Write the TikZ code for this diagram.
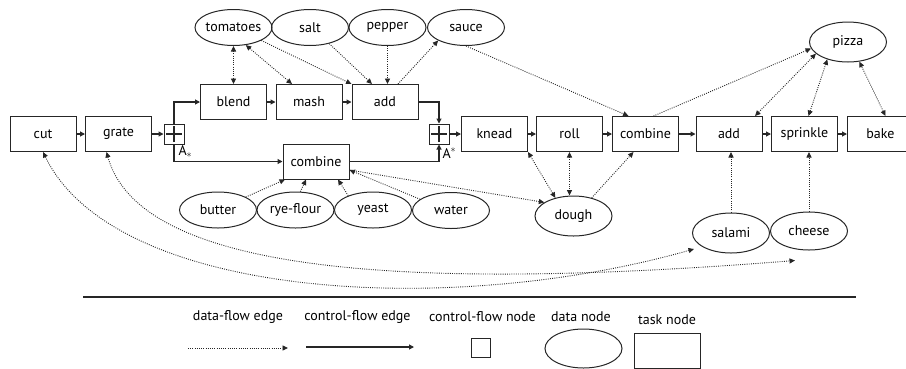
\documentclass[tikz,border=0pt]{standalone}
\usepackage{fontspec}
\setmainfont{PT Sans}
\usetikzlibrary{arrows.meta,shapes.geometric}
\begin{document}
\begin{tikzpicture}[x=1pt,y=-1pt,
    every node/.style={font=\fontsize{14}{16}\selectfont,inner sep=0pt},
    task/.style={draw=black!85,line width=1pt,minimum width=66pt,minimum height=35pt},
    data/.style={draw=black!85,line width=1pt,ellipse,minimum width=77pt,minimum height=36pt},
    ctrl/.style={draw=black!85,line width=1pt,minimum size=20pt},
    plus/.style={ctrl,path picture={\draw[line width=1.2pt]
        ([xshift=-8pt]path picture bounding box.center) -- ([xshift=8pt]path picture bounding box.center)
        ([yshift=-8pt]path picture bounding box.center) -- ([yshift=8pt]path picture bounding box.center);}},
    cflow/.style={draw=black!85,line width=1.1pt,-{Triangle[length=5pt,width=5pt]}},
    dflow/.style={draw=black!85,line width=0.9pt,dash pattern=on 0.9pt off 1.3pt,-{Triangle[length=5.5pt,width=5pt]}},
    dboth/.style={dflow,{Triangle[length=5.5pt,width=5pt]}-{Triangle[length=5.5pt,width=5pt]}}]
    \useasboundingbox (0,0) rectangle (906,368);
    \node[task] (cut) at (43,134) {cut};
    \node[task] (grate) at (118.5,134) {grate};
    \node[plus] (split) at (174,134) {};
    \node[task] (blend) at (233.5,102) {blend};
    \node[task] (mash) at (309,102) {mash};
    \node[task] (addA) at (385,102) {add};
    \node[task] (combineA) at (316,161.5) {combine};
    \node[plus] (join) at (439,134) {};
    \node[task] (knead) at (494.5,134) {knead};
    \node[task] (roll) at (569.5,134) {roll};
    \node[task] (combineB) at (645.5,134) {combine};
    \node[task] (addB) at (729,134) {add};
    \node[task] (sprinkle) at (804.5,134) {sprinkle};
    \node[task] (bake) at (880.5,134) {bake};
    \node[data] (tomatoes) at (233.5,27.5) {\makebox[0pt]{tomatoes}};
    \node[data] (salt) at (310,27.5) {\makebox[0pt]{salt}};
    \node[data] (pepper) at (387.5,27.5) {\makebox[0pt]{pepper}};
    \node[data] (sauce) at (466,27.5) {\makebox[0pt]{sauce}};
    \node[data,minimum height=40pt] (pizza) at (848,42) {\makebox[0pt]{pizza}};
    \node[data] (butter) at (218,210) {\makebox[0pt]{butter}};
    \node[data] (ryeflour) at (295.5,210) {\makebox[0pt]{rye-flour}};
    \node[data] (yeast) at (373,210) {\makebox[0pt]{yeast}};
    \node[data] (water) at (451,210.5) {\makebox[0pt]{water}};
    \node[data,minimum height=40pt] (dough) at (573.5,216) {\makebox[0pt]{dough}};
    \node[data,minimum height=40pt] (salami) at (731,233) {\makebox[0pt]{salami}};
    \node[data,minimum height=38pt] (cheese) at (809,231) {\makebox[0pt]{cheese}};
    \draw[cflow] (cut) -- (grate);
    \draw[cflow] (grate) -- (split);
    \draw[cflow] (split.north) |- (blend.west);
    \draw[cflow] (split.south) node[anchor=north west,xshift=4pt] {A$_*$} |- (combineA.west);
    \draw[cflow] (blend) -- (mash);
    \draw[cflow] (mash) -- (addA);
    \draw[cflow] (addA.east) -| (join.north);
    \draw[cflow] (combineA.east) -| (join.south) node[anchor=north west,xshift=3pt,yshift=-3pt] {A$^*$};
    \draw[cflow] (join) -- (knead);
    \draw[cflow] (knead) -- (roll);
    \draw[cflow] (roll) -- (combineB);
    \draw[cflow] (combineB) -- (addB);
    \draw[cflow] (addB) -- (sprinkle);
    \draw[cflow] (sprinkle) -- (bake);
    \draw[dboth] (tomatoes) -- (blend);
    \draw[dboth] (tomatoes.-55) -- ([xshift=-17pt]mash.north);
    \draw[dflow] (tomatoes.-25) -- (addA.north west);
    \draw[dflow] (salt.-40) -- ([xshift=-13pt]addA.north);
    \draw[dflow] (pepper) -- (pepper |- addA.north);
    \draw[dflow] ([xshift=13pt]addA.north) -- (sauce.-155);
    \draw[dflow] (sauce.south) -- ([xshift=-17pt]combineB.north);
    \draw[dflow] ([xshift=8pt]combineB.north) -- (pizza.-170);
    \draw[dboth] ([xshift=26pt]addB.north) -- (pizza.-160);
    \draw[dboth] ([xshift=4pt]sprinkle.north) -- (pizza.-140);
    \draw[dboth] ([xshift=5pt]bake.north) -- (pizza.-60);
    \draw[dflow] (butter.25) -- ([xshift=-31pt]combineA.south);
    \draw[dflow] (ryeflour.75) -- ([xshift=-10pt]combineA.south);
    \draw[dflow] (yeast.150) -- ([xshift=22pt]combineA.south);
    \draw[dflow] (water.160) -- ([yshift=-8.5pt]combineA.east);
    \draw[dflow] ([yshift=-8.5pt]combineA.east) -- (dough.155);
    \draw[dboth] (knead.south east) -- (dough.135);
    \draw[dboth] (roll) -- (roll |- dough.north);
    \draw[dflow] (dough.45) -- ([xshift=-12pt]combineB.south);
    \draw[dflow] (salami) -- (salami |- addB.south);
    \draw[dflow] (cheese) -- (cheese |- sprinkle.south);
    \draw[dboth] (cut.south) .. controls (115,300) and (450,318) .. ([xshift=2pt,yshift=-16pt]salami.west);
    \draw[dboth] ([xshift=-12pt]grate.south) .. controls (140,272) and (400,292) .. ([xshift=-14pt,yshift=-10pt]cheese.south);
    \coordinate (rulel) at (83,297);
    \coordinate (ruler) at (856,297);
    \draw[black!85,line width=1.2pt] (rulel) -- (ruler);
    \node (lgdflow) at (238,317) {data-flow edge};
    \node (lgcflow) at (357.5,317) {control-flow edge};
    \node (lgcnode) at (482.5,317) {control-flow node};
    \node (lgdnode) at (581,317) {data node};
    \node (lgtnode) at (667,320) {task node};
    \coordinate (dfa) at (188,348);
    \coordinate (dfb) at (288,348);
    \draw[dflow] (dfa) -- (dfb);
    \coordinate (cfa) at (306,347);
    \coordinate (cfb) at (414,347);
    \draw[cflow] (cfa) -- (cfb);
    \node[ctrl,minimum size=19pt] (lgctrl) at (481,347.5) {};
    \node[data,minimum height=39pt] (lgdata) at (583.5,348.5) {};
    \node[task] (lgtask) at (667,350.5) {};
\end{tikzpicture}
\end{document}
